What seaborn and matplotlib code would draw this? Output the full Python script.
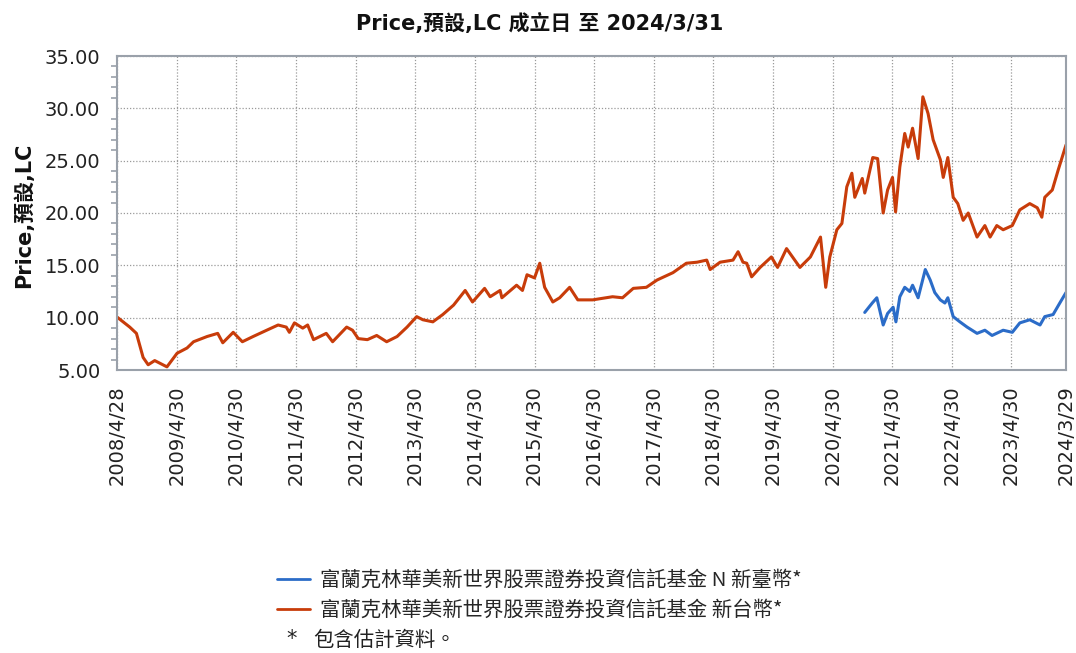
import pandas as pd
import numpy as np
import matplotlib
matplotlib.use("Agg")
import matplotlib.pyplot as plt
from matplotlib.ticker import MultipleLocator, FormatStrFormatter
import seaborn as sns

# --------------------------------------------------
# DATA
# --------------------------------------------------
orange_dates = [
    "2008-04-28", "2008-07-15", "2008-08-25", "2008-10-05", "2008-11-05", "2008-12-15",
    "2009-02-28", "2009-05-01", "2009-07-01", "2009-08-10", "2009-11-01", "2010-01-05",
    "2010-02-05", "2010-04-10", "2010-06-05", "2010-08-10", "2010-11-01", "2011-01-10",
    "2011-03-01", "2011-03-20", "2011-04-20", "2011-06-10", "2011-07-10", "2011-08-15",
    "2011-11-01", "2011-12-10", "2012-03-05", "2012-04-10", "2012-05-15", "2012-07-10",
    "2012-09-05", "2012-11-05", "2013-01-08", "2013-03-10", "2013-05-08", "2013-06-15",
    "2013-08-15", "2013-10-15", "2013-12-20", "2014-03-01", "2014-04-15", "2014-06-28",
    "2014-08-01", "2014-10-01", "2014-10-12", "2015-01-10", "2015-02-15", "2015-03-15",
    "2015-04-30", "2015-06-01", "2015-07-01", "2015-08-20", "2015-10-01", "2015-12-01",
    "2016-01-20", "2016-04-20", "2016-08-20", "2016-10-20", "2016-12-25", "2017-03-15",
    "2017-05-20", "2017-08-25", "2017-11-15", "2018-01-20", "2018-03-20", "2018-04-10",
    "2018-06-10", "2018-08-28", "2018-09-28", "2018-10-28", "2018-11-20", "2018-12-20",
    "2019-02-10", "2019-04-20", "2019-05-28", "2019-07-22", "2019-10-12", "2019-12-15",
    "2020-02-15", "2020-03-18", "2020-04-12", "2020-05-25", "2020-06-25", "2020-07-25",
    "2020-08-25", "2020-09-12", "2020-10-28", "2020-11-12", "2020-12-31", "2021-01-30",
    "2021-03-05", "2021-04-01", "2021-05-01", "2021-05-20", "2021-06-15", "2021-07-15",
    "2021-08-05", "2021-09-01", "2021-10-05", "2021-11-03", "2021-12-05", "2022-01-05",
    "2022-02-18", "2022-03-08", "2022-04-05", "2022-05-08", "2022-06-05", "2022-07-08",
    "2022-08-08", "2022-10-01", "2022-11-18", "2022-12-20", "2023-01-30", "2023-03-10",
    "2023-05-05", "2023-06-20", "2023-08-20", "2023-10-05", "2023-11-02", "2023-11-20",
    "2024-01-05", "2024-02-10", "2024-03-29",
]
orange_values = [
    10.06, 9.1, 8.5, 6.2, 5.5, 5.9,
    5.3, 6.6, 7.1, 7.7, 8.2, 8.5,
    7.6, 8.6, 7.7, 8.2, 8.8, 9.3,
    9.1, 8.6, 9.5, 9.0, 9.3, 7.9,
    8.5, 7.7, 9.1, 8.8, 8.0, 7.9,
    8.3, 7.7, 8.2, 9.1, 10.1, 9.8,
    9.6, 10.3, 11.2, 12.6, 11.5, 12.8,
    12.0, 12.6, 11.9, 13.1, 12.6, 14.1,
    13.8, 15.2, 12.9, 11.5, 11.9, 12.9,
    11.7, 11.7, 12.0, 11.9, 12.8, 12.9,
    13.6, 14.3, 15.2, 15.3, 15.5, 14.6,
    15.3, 15.5, 16.3, 15.3, 15.2, 13.9,
    14.8, 15.8, 14.8, 16.6, 14.8, 15.8,
    17.7, 12.9, 15.8, 18.4, 19.0, 22.5,
    23.8, 21.5, 23.3, 21.9, 25.3, 25.2,
    20.0, 22.2, 23.4, 20.1, 24.4, 27.6,
    26.3, 28.1, 25.2, 31.1, 29.5, 27.0,
    25.1, 23.4, 25.3, 21.5, 20.9, 19.3,
    20.0, 17.7, 18.8, 17.7, 18.8, 18.4,
    18.8, 20.3, 20.9, 20.5, 19.6, 21.5,
    22.2, 24.1, 26.5,
]

blue_dates = [
    "2020-11-12", "2020-12-28", "2021-01-25", "2021-03-05", "2021-04-01", "2021-05-05",
    "2021-05-22", "2021-06-15", "2021-07-15", "2021-08-15", "2021-09-01", "2021-10-05",
    "2021-11-18", "2021-12-18", "2022-01-15", "2022-02-18", "2022-03-18", "2022-04-05",
    "2022-05-08", "2022-06-18", "2022-08-01", "2022-10-01", "2022-11-18", "2023-01-01",
    "2023-03-10", "2023-05-05", "2023-06-20", "2023-08-20", "2023-10-22", "2023-11-20",
    "2024-01-10", "2024-02-20", "2024-03-29",
]
blue_values = [
    10.5, 11.4, 11.9, 9.3, 10.4, 11.0,
    9.6, 12.0, 12.9, 12.5, 13.1, 11.9,
    14.6, 13.6, 12.4, 11.7, 11.4, 11.9,
    10.1, 9.6, 9.1, 8.5, 8.8, 8.3,
    8.8, 8.6, 9.5, 9.8, 9.3, 10.1,
    10.3, 11.4, 12.4,
]

series_names = [
    "富蘭克林華美新世界股票證券投資信託基金 N 新臺幣*",
    "富蘭克林華美新世界股票證券投資信託基金 新台幣*",
]
tick_dates = [
    "2008-04-28", "2009-04-30", "2010-04-30", "2011-04-30", "2012-04-30",
    "2013-04-30", "2014-04-30", "2015-04-30", "2016-04-30", "2017-04-30",
    "2018-04-30", "2019-04-30", "2020-04-30", "2021-04-30", "2022-04-30",
    "2023-04-30", "2024-03-29",
]
tick_labels = [
    "2008/4/28", "2009/4/30", "2010/4/30", "2011/4/30", "2012/4/30",
    "2013/4/30", "2014/4/30", "2015/4/30", "2016/4/30", "2017/4/30",
    "2018/4/30", "2019/4/30", "2020/4/30", "2021/4/30", "2022/4/30",
    "2023/4/30", "2024/3/29",
]

# --------------------------------------------------
# STYLE
# --------------------------------------------------
sns.set_style("white")
plt.rcParams["font.family"] = ["DejaVu Sans", "Noto Sans CJK TC"]
colors = {series_names[0]: "#2b6cc8", series_names[1]: "#c83c0a"}
spine_color = "#9aa1aa"
cjk = ["Noto Sans CJK TC", "DejaVu Sans"]

df = pd.concat([
    pd.DataFrame({"date": pd.to_datetime(blue_dates), "price": blue_values,
                  "series": series_names[0]}),
    pd.DataFrame({"date": pd.to_datetime(orange_dates), "price": orange_values,
                  "series": series_names[1]}),
])

fig = plt.figure(figsize=(10.76, 6.53), dpi=100)
ax = fig.add_axes([117 / 1076, 1 - 370 / 653, (1066 - 117) / 1076, (370 - 56) / 653])

sns.lineplot(data=df, x="date", y="price", hue="series", palette=colors,
             hue_order=series_names, linewidth=2.2, ax=ax, legend=False)

ax.set_xlim(pd.Timestamp(tick_dates[0]), pd.Timestamp(tick_dates[-1]))
ax.set_ylim(5, 35)
ax.set_xticks(pd.to_datetime(tick_dates))
ax.set_xticklabels(tick_labels, rotation=90, fontsize=14, color="#222222")
ax.yaxis.set_major_locator(MultipleLocator(5))
ax.yaxis.set_minor_locator(MultipleLocator(1))
ax.yaxis.set_major_formatter(FormatStrFormatter("%.2f"))
ax.tick_params(axis="y", which="major", labelsize=14, length=8, width=1.5,
               color=spine_color, labelcolor="#222222", pad=4)
ax.tick_params(axis="y", which="minor", length=4, width=1.2, color=spine_color, left=True)
ax.tick_params(axis="x", which="major", length=8, width=1.5, color=spine_color, pad=3)
ax.set_xlabel("")
ax.set_ylabel("")
ax.grid(True, which="major", linestyle=(0, (1, 1.5)), color="#9a9a9a", linewidth=0.9)
for sp in ax.spines.values():
    sp.set_color(spine_color)
    sp.set_linewidth(1.5)

fig.text(540 / 1076, 1 - 24 / 653, "Price,預設,LC 成立日 至 2024/3/31", ha="center", va="center",
         fontsize=15, fontweight="bold", color="#111111")
fig.text(24 / 1076, 1 - 215 / 653, "Price,預設,LC", rotation=90, ha="center", va="center",
         fontsize=15, fontweight="bold", color="#111111")

# legend under the chart
handles = [plt.Line2D([], [], color=colors[n], linewidth=2.0) for n in series_names]
fig.legend(handles, series_names, loc="upper left", frameon=False,
           bbox_to_anchor=(277 / 1076, 1 - 570 / 653), borderpad=0, borderaxespad=0,
           handlelength=1.6, handletextpad=0.5, labelspacing=0.45,
           prop={"family": cjk, "size": 14.7})
fig.text(286 / 1076, 1 - 639 / 653, "*", ha="left", va="center",
         fontsize=15, family=["DejaVu Sans"], color="#222222")
fig.text(313 / 1076, 1 - 640 / 653, "包含估計資料。", ha="left", va="center",
         fontsize=14.7, family=cjk, color="#222222")

fig.savefig("out.png", dpi=100)
